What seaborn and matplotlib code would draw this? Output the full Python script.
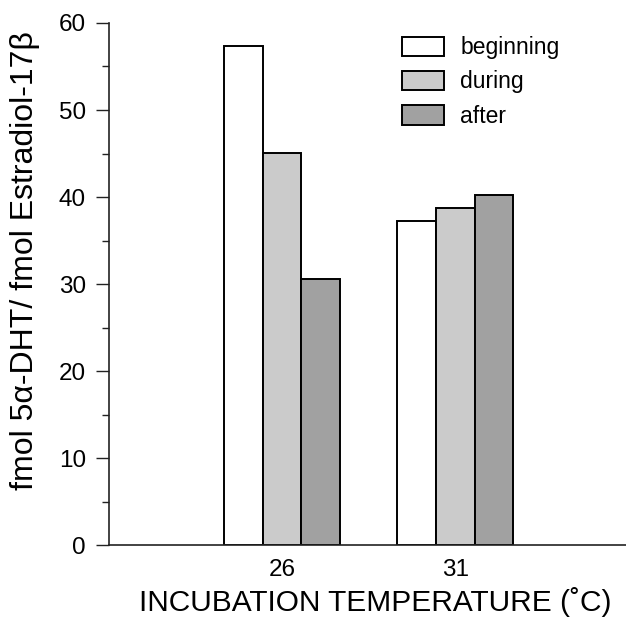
import pandas as pd
import numpy as np
import matplotlib
matplotlib.use('Agg')
import matplotlib.pyplot as plt
import seaborn as sns
from matplotlib.ticker import MultipleLocator

# values
temps = ['26', '31']
phases = ['beginning', 'during', 'after']
beginning = [57.3, 37.2]
during = [45.1, 38.7]
after = [30.6, 40.2]

rows = []
for i, t in enumerate(temps):
    rows.append((t, 'beginning', beginning[i]))
    rows.append((t, 'during', during[i]))
    rows.append((t, 'after', after[i]))
data = pd.DataFrame(rows, columns=['temp', 'phase', 'ratio'])

sns.set_style('white')
plt.rcParams['font.family'] = ['Liberation Sans', 'DejaVu Sans']
plt.rcParams['text.color'] = 'black'
plt.rcParams['axes.labelcolor'] = 'black'
plt.rcParams['xtick.color'] = 'black'
plt.rcParams['ytick.color'] = 'black'

fig = plt.figure(figsize=(6.26, 6.21), dpi=100)
ax = fig.add_axes([0.174, 0.122, 0.83, 0.841])

palette = {'beginning': '#ffffff', 'during': '#cbcbcb', 'after': '#a1a1a1'}
sns.barplot(data=data, x='temp', y='ratio', hue='phase', order=temps,
            hue_order=phases, palette=palette, width=0.67,
            edgecolor='black', linewidth=1.4, saturation=1, ax=ax)

ax.set_xlim(-1, 2)
ax.set_ylim(0, 60)
ax.yaxis.set_major_locator(MultipleLocator(10))
ax.yaxis.set_minor_locator(MultipleLocator(5))
ax.tick_params(axis='y', which='major', direction='out', length=9.5, width=1,
               labelsize=17.5, pad=7, left=True, color='#222222')
ax.tick_params(axis='y', which='minor', direction='out', length=5, width=1,
               left=True, color='#222222')
ax.tick_params(axis='x', length=0, labelsize=17.5, pad=10)

for side in ['top', 'right']:
    ax.spines[side].set_visible(False)
for side in ['left', 'bottom']:
    ax.spines[side].set_color('#222222')
    ax.spines[side].set_linewidth(1.2)

ax.set_ylabel('fmol 5α-DHT/ fmol Estradiol-17β', fontsize=23)
ax.set_xlabel('INCUBATION TEMPERATURE (˚C)', fontsize=21.5)
ax.yaxis.set_label_coords(-0.133, 0.546)
ax.xaxis.set_label_coords(0.512, -0.08)

leg = ax.legend(loc='upper left', bbox_to_anchor=(402 / 626, 1 - 36 / 621),
                bbox_transform=fig.transFigure, frameon=False, fontsize=16.5,
                handlelength=1.85, handleheight=0.9, handletextpad=0.7,
                labelspacing=0.5, borderpad=0, borderaxespad=0)
for h in leg.legend_handles:
    h.set_edgecolor('black')
    h.set_linewidth(1.4)

fig.savefig('out.png', dpi=100)
